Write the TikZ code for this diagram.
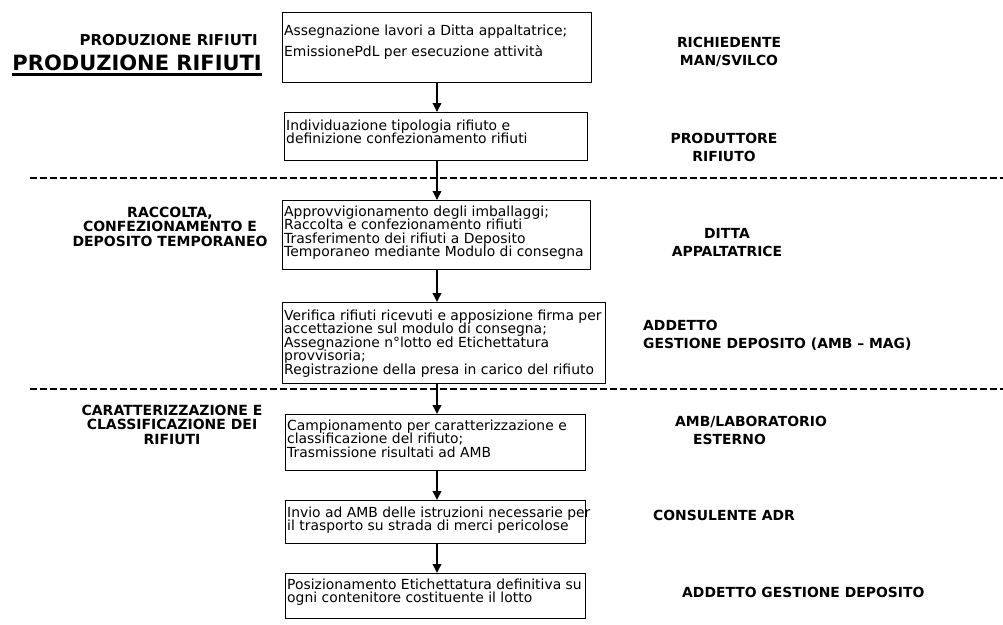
\documentclass[tikz,border=0pt]{standalone}
\usepackage{fontspec}
\setmainfont{DejaVu Sans}
\usetikzlibrary{arrows.meta,calc}
\begin{document}
\begin{tikzpicture}[x=1pt,y=-1pt,
  stepbox/.style={draw=black,line width=0.9pt,rectangle,inner sep=0pt,anchor=north west},
  boxtext/.style={inner sep=0pt,anchor=north west,align=left,font=\fontsize{13.9}{13.5}\selectfont},
  phase/.style={inner sep=0pt,anchor=north,align=center,font=\bfseries\fontsize{14}{14.6}\selectfont},
  role/.style={inner sep=0pt,anchor=north west,align=left,font=\bfseries\fontsize{13.9}{18}\selectfont},
  rolec/.style={role,anchor=north,align=center},
  flow/.style={line width=1.8pt,-{Triangle[length=9pt,width=8.5pt]}},
  sep/.style={line width=2.2pt,dash pattern=on 7pt off 3pt}]
\useasboundingbox (0,0) rectangle (1003,624);

% phase separators
\coordinate (s1a) at (30,178);  \coordinate (s1b) at (1003,178);
\coordinate (s2a) at (30,389);  \coordinate (s2b) at (1003,389);
\draw[sep] (s1a) -- (s1b);
\draw[sep] (s2a) -- (s2b);

% activity boxes
\node[stepbox, minimum width=309pt, minimum height=70pt] (b1) at (282,12) {};
\node[stepbox, minimum width=303pt, minimum height=48pt] (b2) at (284,112) {};
\node[stepbox, minimum width=308pt, minimum height=69pt] (b3) at (282,200) {};
\node[stepbox, minimum width=323pt, minimum height=81pt] (b4) at (282,302) {};
\node[stepbox, minimum width=300pt, minimum height=56pt] (b5) at (285,414) {};
\node[stepbox, minimum width=300pt, minimum height=43pt] (b6) at (285,500) {};
\node[stepbox, minimum width=300pt, minimum height=45pt] (b7) at (285,573) {};

% box texts (top of first line placed below each box's upper edge)
\node[boxtext] (t1) at (284,24.4) {Assegnazione lavori a Ditta appaltatrice;\\[6.6pt]EmissionePdL per esecuzione attività};
\node[boxtext] (t2) at (286,119.4) {Individuazione tipologia rifiuto e\\definizione confezionamento rifiuti};
\node[boxtext] (t3) at (284,205.4) {Approvvigionamento degli imballaggi;\\Raccolta e confezionamento rifiuti\\Trasferimento dei rifiuti a Deposito\\Temporaneo mediante Modulo di consegna};
\node[boxtext] (t4) at (284,309.4) {Verifica rifiuti ricevuti e apposizione firma per\\accettazione sul modulo di consegna;\\Assegnazione n°lotto ed Etichettatura\\provvisoria;\\Registrazione della presa in carico del rifiuto};
\node[boxtext] (t5) at (287,419.4) {Campionamento per caratterizzazione e\\classificazione del rifiuto;\\Trasmissione risultati ad AMB};
\node[boxtext] (t6) at (287,506.4) {Invio ad AMB delle istruzioni necessarie per\\il trasporto su strada di merci pericolose};
\node[boxtext] (t7) at (287,578.4) {Posizionamento Etichettatura definitiva su\\ogni contenitore costituente il lotto};

% flow arrows
\coordinate (ax) at (437,0);
\draw[flow] (b1.south -| ax) -- (b2.north -| ax);
\draw[flow] (b2.south -| ax) -- (b3.north -| ax);
\draw[flow] (b3.south -| ax) -- (b4.north -| ax);
\draw[flow] (b4.south -| ax) -- (b5.north -| ax);
\draw[flow] (b5.south -| ax) -- (b6.north -| ax);
\draw[flow] (b6.south -| ax) -- (b7.north -| ax);

% phase titles
\node[inner sep=0pt,anchor=base east,font=\bfseries\fontsize{15}{16}\selectfont] (p0) at (258,45) {PRODUZIONE RIFIUTI};
\node[inner sep=0pt,anchor=base east,font=\bfseries\fontsize{21}{22}\selectfont] (p0b) at (262,70) {PRODUZIONE RIFIUTI};
\draw[line width=2.6pt] ([yshift=-4.5pt]p0b.base west) -- ([yshift=-4.5pt]p0b.base east);
\node[phase] (p1) at (170,206.8) {RACCOLTA,\\CONFEZIONAMENTO E\\DEPOSITO TEMPORANEO};
\node[phase] (p2) at (172,404.8) {CARATTERIZZAZIONE E\\CLASSIFICAZIONE DEI\\RIFIUTI};

% responsible roles
\node[rolec] (r1) at (729,37) {RICHIEDENTE\\MAN/SVILCO};
\node[rolec] (r2) at (724,133) {PRODUTTORE\\RIFIUTO};
\node[rolec] (r3) at (727,228) {DITTA\\APPALTATRICE};
\node[role] (r4) at (643,320) {ADDETTO\\GESTIONE DEPOSITO (AMB – MAG)};
\node[role] (r5) at (675,416) {AMB/LABORATORIO\\\hspace*{18pt}ESTERNO};
\node[role,anchor=base west] (r6) at (653,520) {CONSULENTE ADR};
\node[role,anchor=base west] (r7) at (682,597) {ADDETTO GESTIONE DEPOSITO};
\end{tikzpicture}
\end{document}
